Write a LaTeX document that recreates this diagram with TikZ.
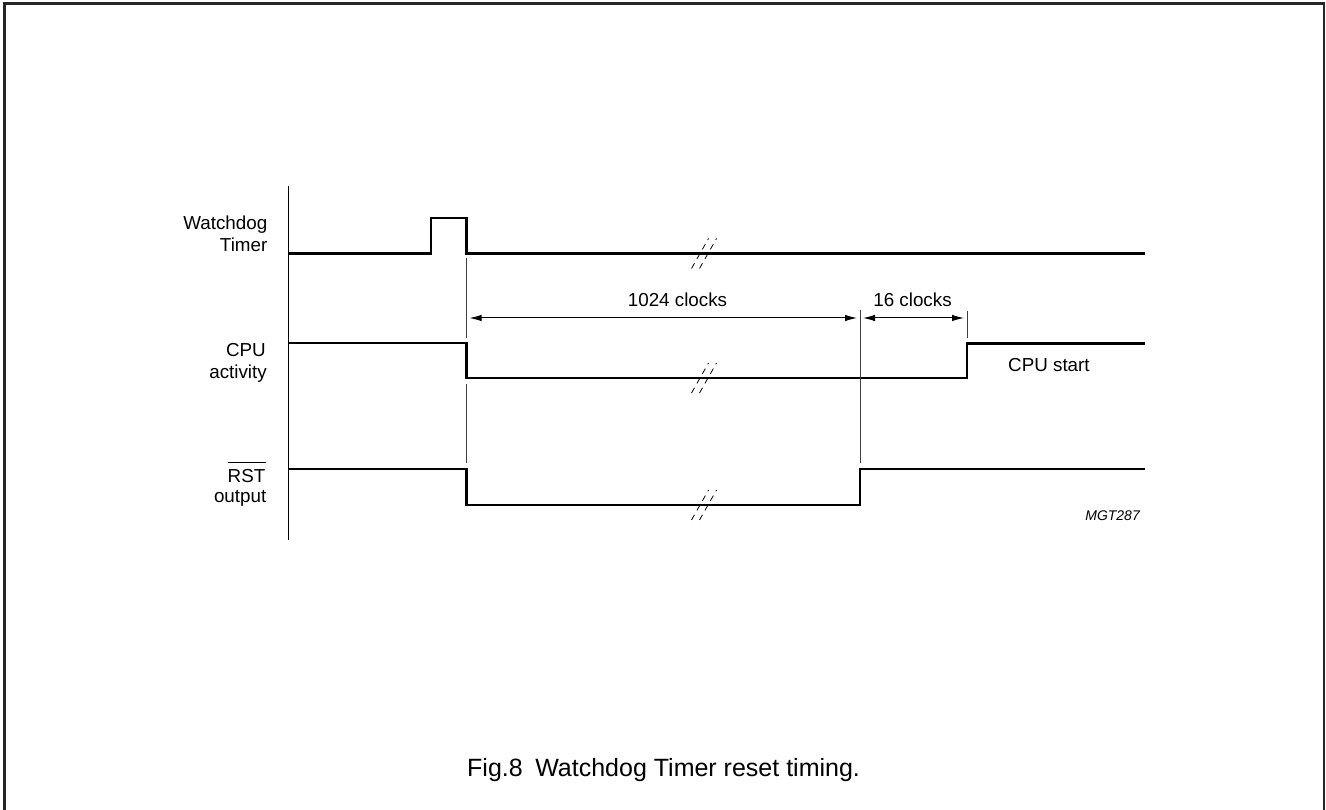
\documentclass[tikz,border=0pt]{standalone}
\usepackage{fontspec}
\setmainfont{Liberation Sans}
\usetikzlibrary{arrows.meta,calc}
\begin{document}
\begin{tikzpicture}[x=1pt,y=-1pt,
  sig/.style={line width=2.6pt, line join=miter},
  guide/.style={line width=0.9pt, black!75},
  dim/.style={line width=1pt, {Latex[length=12pt,width=6.5pt]}-{Latex[length=12pt,width=6.5pt]}},
  lbl/.style={font=\fontsize{18.8}{21}\selectfont, inner sep=0pt},
  brk/.style={line width=0.8pt, dash pattern=on 6pt off 5pt}]
\useasboundingbox (0,0) rectangle (1326,810);
\fill[white] (0,0) rectangle (1326,810);
% frame (open at the bottom)
\draw[line width=2.2pt, black!85] (4.5,815) -- (4.5,3.5) -- (1324,3.5) -- (1324,815);

% axis
\draw[line width=1pt] (288.5,186) -- (288.5,540);

% signal labels
\node[lbl, anchor=base east] (wd1) at (267.5,230) {Watchdog};
\node[lbl, anchor=base east] (wd2) at (267.5,252) {Timer};
\node[lbl, anchor=base east] (cpu1) at (266,357) {CPU};
\node[lbl, anchor=base east] (cpu2) at (267,379) {activity};
\node[lbl, anchor=base east] (rst1) at (265.5,482) {RST};
\draw[line width=1pt] ($(rst1.base west)+(0,-20)$) -- ($(rst1.base east)+(0,-20)$);
\node[lbl, anchor=base east] (rst2) at (266.5,502) {output};

% signals
\draw[sig] (288.5,253.5) -- (431,253.5) -- (431,218) -- (466.5,218) -- (466.5,253.5) -- (1145,253.5);
\draw[sig] (288.5,343) -- (466.5,343) -- (466.5,378) -- (967,378) -- (967,343.5) -- (1145,343.5);
\draw[sig] (288.5,469) -- (466.5,469) -- (466.5,505) -- (860,505) -- (860,469) -- (1145,469);

% break marks
\foreach \yy in {253.5,378,505} {
  \draw[brk] (691.5,\yy+15) -- (708.5,\yy-15);
  \draw[brk] (699.5,\yy+15) -- (716.5,\yy-15);
}

% guide lines
\draw[guide] (466.5,258) -- (466.5,338);
\draw[guide] (466.5,384) -- (466.5,463);
\draw[guide] (860,310) -- (860,463);
\draw[guide] (967,311) -- (967,338);

% dimension arrows
\draw[dim] (469.5,318) -- (857,318);
\draw[dim] (863,318) -- (964,318);
\node[lbl, anchor=base] (c1024) at (677.5,307) {1024 clocks};
\node[lbl, anchor=base] (c16) at (912.5,307) {16 clocks};

\node[lbl, anchor=base west] (cst) at (1008,372) {CPU start};
\node[font=\fontsize{14}{16}\selectfont\itshape, inner sep=0pt, anchor=base east] (mgt) at (1140,520) {MGT287};

% caption
\node[font=\fontsize{25}{30}\selectfont, inner sep=0pt, anchor=base west] (cap) at (467,776) {Fig.8\hspace{0.5em}Watchdog Timer reset timing.};
\end{tikzpicture}
\end{document}
